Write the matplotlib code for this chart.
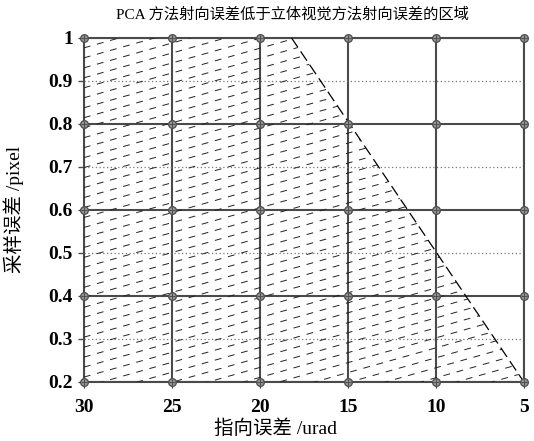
import numpy as np
import matplotlib
matplotlib.use("Agg")
import matplotlib.pyplot as plt
from matplotlib.patches import Polygon

# ─── DATA ───

x_ticks = [30, 25, 20, 15, 10, 5]
y_ticks = [0.2, 0.3, 0.4, 0.5, 0.6, 0.7, 0.8, 0.9, 1.0]
y_major = [0.2, 0.4, 0.6, 0.8, 1.0]
y_minor = [0.3, 0.5, 0.7, 0.9]

# region where PCA error is lower (boundary)
region_x = [30, 30, 18.2, 5]
region_y = [0.2, 1.0, 1.0, 0.2]

title = "PCA 方法射向误差低于立体视觉方法射向误差的区域"
xlabel = "指向误差 /urad"
ylabel = "采样误差 /pixel"

# ─── STYLE ───

CJK = ["Liberation Serif", "Noto Sans CJK SC"]
GRID_COLOR = "#4a4a4a"

plt.rcParams["font.family"] = CJK

fig = plt.figure(figsize=(5.34, 4.41), dpi=100)
ax = fig.add_axes([0.157, 0.134, 0.824, 0.780])

ax.set_xlim(30, 5)
ax.set_ylim(0.2, 1.0)

# grid lines
for xv in x_ticks:
    ax.axvline(xv, color=GRID_COLOR, linewidth=1.5, zorder=2)
for yv in y_major:
    ax.axhline(yv, color=GRID_COLOR, linewidth=1.5, zorder=2)
for yv in y_minor:
    ax.axhline(yv, color="#777777", linewidth=0.9, linestyle=(0, (1, 2)), zorder=2)

# hatched region
poly = Polygon(list(zip(region_x, region_y)), closed=True,
               facecolor="none", edgecolor="none")
ax.add_patch(poly)

slope = 0.36
step = 0.029
for b in np.arange(-0.45, 1.0, step):
    ln, = ax.plot([0, 1], [b, b + slope], transform=ax.transAxes,
                  color="#222222", linewidth=0.7, dashes=(7, 7), zorder=3)
    ln.set_clip_path(poly)

# boundary dashed edge
ax.plot(region_x[2:], region_y[2:], color="black", linewidth=0.9,
        dashes=(9, 4), zorder=4)

# markers at grid intersections
gx, gy = np.meshgrid(x_ticks, y_major)
ax.scatter(gx.ravel(), gy.ravel(), s=30, marker="o", facecolor="#9a9a9a",
           edgecolor="#505050", linewidth=1.0, zorder=5, clip_on=False)
ax.scatter(gx.ravel(), gy.ravel(), s=22, marker="+", color="#505050",
           linewidth=0.8, zorder=6, clip_on=False)

for s in ax.spines.values():
    s.set_color(GRID_COLOR)
    s.set_linewidth(1.5)

ax.set_xticks(x_ticks)
ax.set_xticklabels([str(v) for v in x_ticks])
ax.set_yticks(y_ticks)
ax.set_yticklabels(["1" if v == 1.0 else f"{v:.1f}" for v in y_ticks])
ax.tick_params(axis="both", direction="out", length=4, width=1.0,
               color=GRID_COLOR, labelsize=14)
ax.tick_params(axis="x", pad=8)
ax.tick_params(axis="y", pad=4)
for lbl in ax.get_xticklabels() + ax.get_yticklabels():
    lbl.set_fontweight("bold")

ax.set_xlabel(xlabel, fontsize=14)
ax.xaxis.set_label_coords(0.436, -0.11)
ax.set_ylabel(ylabel, fontsize=14)
ax.yaxis.set_label_coords(-0.135, 0.5)
fig.text(0.548, 0.968, title, fontsize=11, ha="center", va="center")

fig.savefig("out.png", dpi=100)
